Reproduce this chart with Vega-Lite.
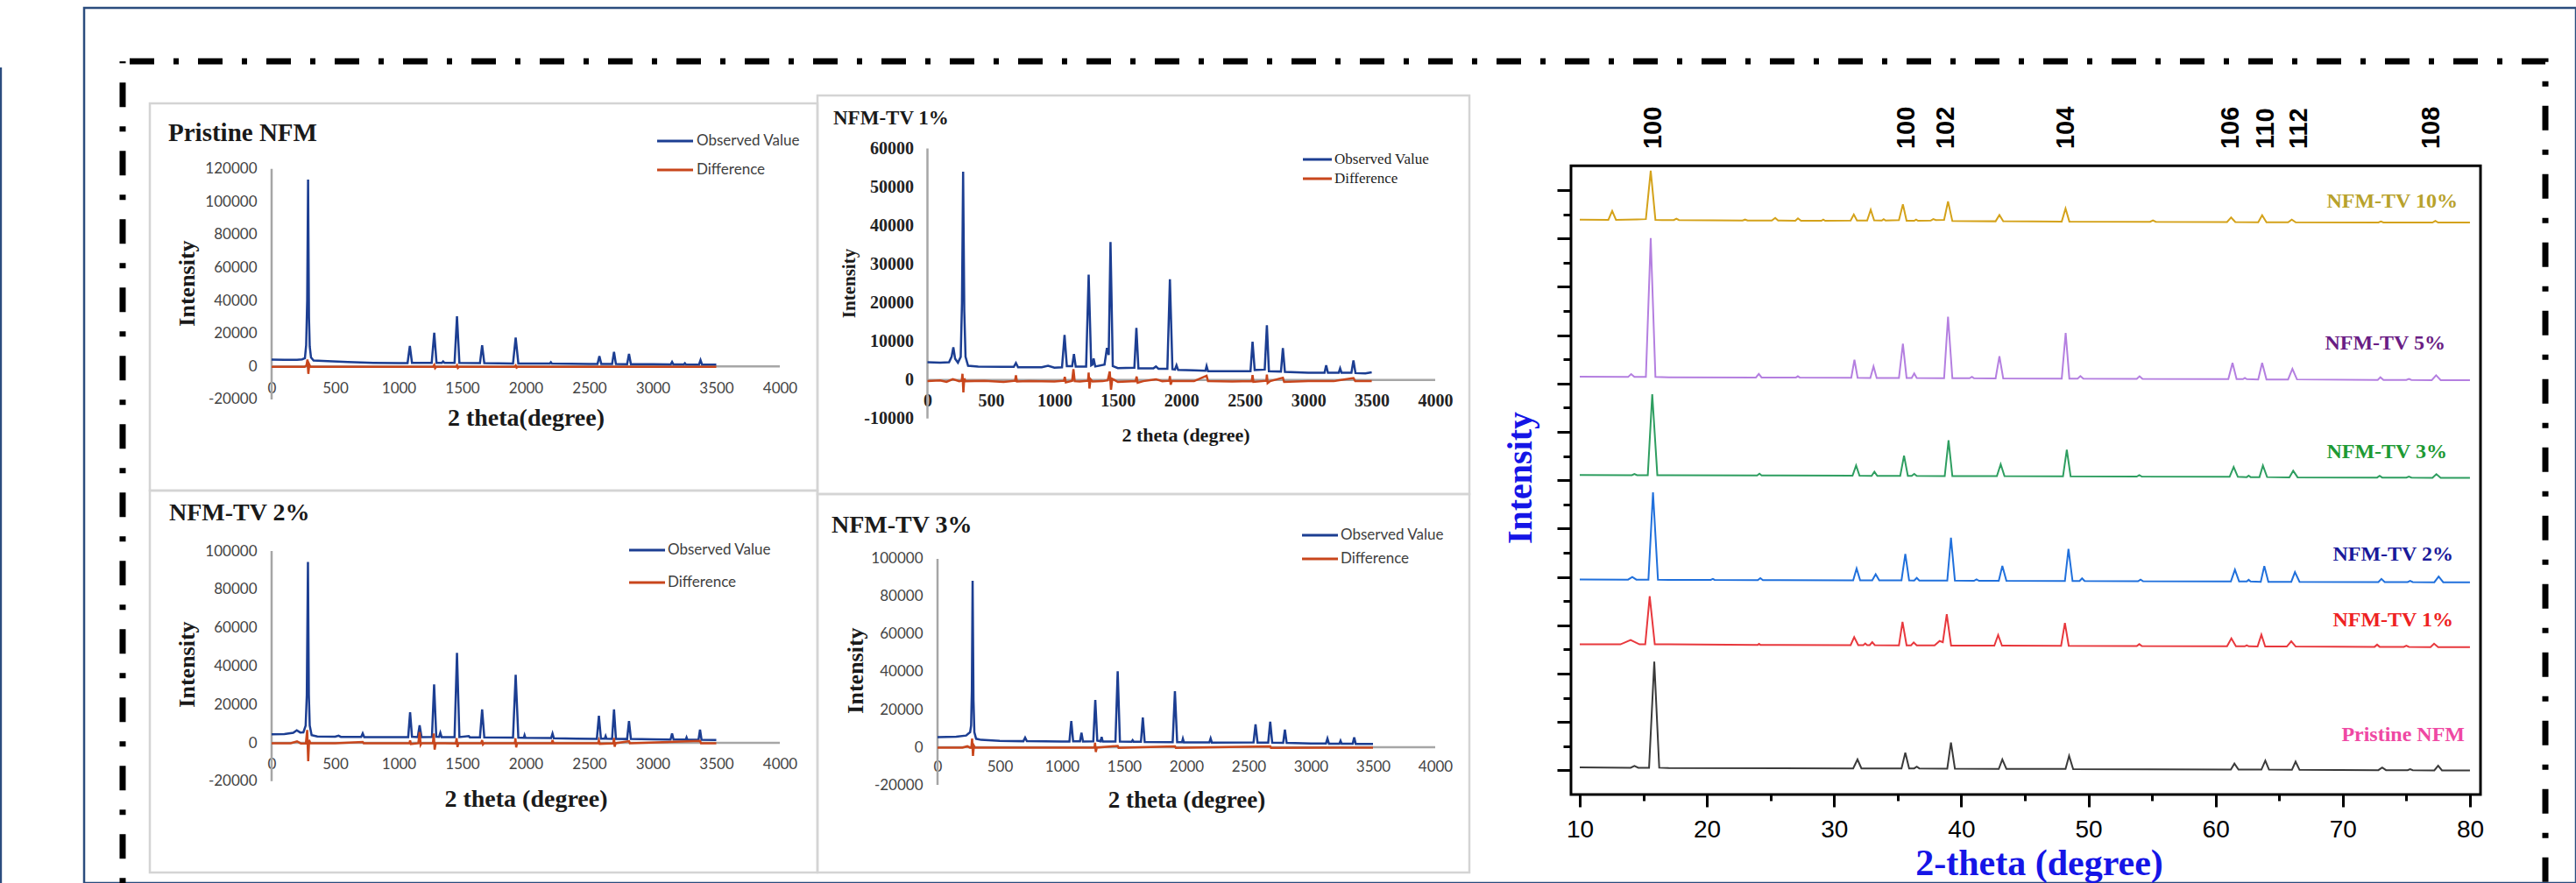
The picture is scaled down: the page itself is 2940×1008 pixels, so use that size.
{
"$schema": "https://vega.github.io/schema/vega-lite/v6.json",
"width": 2844, "height": 999,
"autosize": {"type": "none"},
"padding": {"left": 96, "top": 9, "right": 0, "bottom": 0},
"background": "white",
"config": {"view": {"stroke": "#2b4c7e", "strokeWidth": 2.5}, "axis": {"grid": false}},
"data": {"values": [{}]},
"datasets": {
"p1o": [{"t":0,"v":4100},{"t":100,"v":4050},{"t":200,"v":4000},{"t":240,"v":4300},{"t":262,"v":5000},{"t":272,"v":13000},{"t":280,"v":40000},{"t":287,"v":113400},{"t":294,"v":30000},{"t":300,"v":12000},{"t":310,"v":5500},{"t":330,"v":3600},{"t":400,"v":3300},{"t":600,"v":2700},{"t":800,"v":2200},{"t":1000,"v":2000},{"t":1070,"v":2000},{"t":1088,"v":12400},{"t":1105,"v":2200},{"t":1260,"v":2100},{"t":1280,"v":20400},{"t":1298,"v":2200},{"t":1340,"v":2100},{"t":1350,"v":3000},{"t":1362,"v":2100},{"t":1440,"v":2100},{"t":1459,"v":30500},{"t":1478,"v":2200},{"t":1640,"v":2000},{"t":1657,"v":12900},{"t":1674,"v":2000},{"t":1900,"v":1800},{"t":1921,"v":17500},{"t":1942,"v":1800},{"t":2000,"v":1700},{"t":2190,"v":1700},{"t":2198,"v":2500},{"t":2206,"v":1700},{"t":2500,"v":1500},{"t":2565,"v":1500},{"t":2580,"v":6300},{"t":2595,"v":1500},{"t":2680,"v":1450},{"t":2695,"v":8900},{"t":2710,"v":1450},{"t":2798,"v":1400},{"t":2813,"v":7600},{"t":2828,"v":1400},{"t":3000,"v":1300},{"t":3142,"v":1250},{"t":3152,"v":2700},{"t":3162,"v":1250},{"t":3245,"v":1200},{"t":3253,"v":1900},{"t":3261,"v":1200},{"t":3364,"v":1150},{"t":3376,"v":3800},{"t":3388,"v":1150},{"t":3500,"v":1100}],
"p1d": [{"t":0,"v":-300},{"t":260,"v":-300},{"t":275,"v":800},{"t":282,"v":4200},{"t":289,"v":-4500},{"t":296,"v":1200},{"t":305,"v":-300},{"t":1270,"v":-300},{"t":1280,"v":900},{"t":1287,"v":-1000},{"t":1295,"v":-300},{"t":1450,"v":-300},{"t":1459,"v":700},{"t":1466,"v":-900},{"t":1475,"v":-300},{"t":1912,"v":-300},{"t":1921,"v":500},{"t":1928,"v":-700},{"t":1936,"v":-300},{"t":3500,"v":-300}],
"p2o": [{"t":0,"v":4600},{"t":100,"v":4500},{"t":170,"v":4600},{"t":190,"v":6000},{"t":204,"v":8500},{"t":218,"v":5500},{"t":240,"v":4500},{"t":262,"v":6000},{"t":272,"v":20000},{"t":281,"v":54000},{"t":290,"v":18000},{"t":300,"v":6000},{"t":320,"v":3700},{"t":400,"v":3500},{"t":600,"v":3400},{"t":680,"v":3400},{"t":697,"v":4400},{"t":714,"v":3300},{"t":900,"v":3300},{"t":950,"v":3700},{"t":1000,"v":3200},{"t":1060,"v":3300},{"t":1080,"v":11700},{"t":1098,"v":3600},{"t":1140,"v":3600},{"t":1154,"v":6700},{"t":1168,"v":3500},{"t":1250,"v":3500},{"t":1270,"v":27300},{"t":1290,"v":3800},{"t":1300,"v":4000},{"t":1309,"v":5600},{"t":1322,"v":3500},{"t":1395,"v":4000},{"t":1414,"v":8300},{"t":1428,"v":6500},{"t":1442,"v":35800},{"t":1460,"v":3600},{"t":1500,"v":3100},{"t":1630,"v":3200},{"t":1646,"v":13500},{"t":1662,"v":3000},{"t":1780,"v":3000},{"t":1800,"v":3500},{"t":1820,"v":2900},{"t":1890,"v":2900},{"t":1910,"v":26100},{"t":1930,"v":2800},{"t":1950,"v":2700},{"t":1962,"v":3800},{"t":1975,"v":2600},{"t":2100,"v":2500},{"t":2190,"v":2400},{"t":2199,"v":3600},{"t":2210,"v":2300},{"t":2400,"v":2300},{"t":2545,"v":2300},{"t":2561,"v":9900},{"t":2578,"v":2600},{"t":2657,"v":2700},{"t":2674,"v":14200},{"t":2690,"v":2300},{"t":2785,"v":2200},{"t":2800,"v":8300},{"t":2816,"v":2100},{"t":3000,"v":1900},{"t":3128,"v":1900},{"t":3141,"v":3800},{"t":3155,"v":1900},{"t":3240,"v":1900},{"t":3251,"v":3000},{"t":3262,"v":1900},{"t":3340,"v":1900},{"t":3356,"v":5100},{"t":3372,"v":1800},{"t":3450,"v":1700},{"t":3500,"v":2000}],
"p2d": [{"t":0,"v":-300},{"t":100,"v":-100},{"t":150,"v":-500},{"t":200,"v":200},{"t":250,"v":-300},{"t":270,"v":-200},{"t":276,"v":1600},{"t":283,"v":-3200},{"t":290,"v":400},{"t":300,"v":-300},{"t":450,"v":-200},{"t":600,"v":-500},{"t":690,"v":-200},{"t":697,"v":1200},{"t":705,"v":-400},{"t":800,"v":-300},{"t":1000,"v":-400},{"t":1075,"v":-200},{"t":1082,"v":800},{"t":1090,"v":-600},{"t":1140,"v":-200},{"t":1150,"v":2800},{"t":1160,"v":-300},{"t":1200,"v":-400},{"t":1265,"v":-200},{"t":1270,"v":1900},{"t":1276,"v":-2200},{"t":1285,"v":200},{"t":1300,"v":-400},{"t":1380,"v":-300},{"t":1420,"v":-100},{"t":1436,"v":2200},{"t":1446,"v":-2500},{"t":1456,"v":300},{"t":1500,"v":-500},{"t":1640,"v":-300},{"t":1648,"v":900},{"t":1656,"v":-700},{"t":1700,"v":-300},{"t":1800,"v":200},{"t":1850,"v":-300},{"t":1905,"v":-200},{"t":1910,"v":1000},{"t":1916,"v":-1200},{"t":1925,"v":-300},{"t":2100,"v":-300},{"t":2199,"v":1100},{"t":2210,"v":-300},{"t":2400,"v":-400},{"t":2555,"v":-300},{"t":2561,"v":1300},{"t":2568,"v":-500},{"t":2670,"v":-200},{"t":2674,"v":1400},{"t":2680,"v":-800},{"t":2700,"v":-300},{"t":2800,"v":600},{"t":2810,"v":-500},{"t":3000,"v":-300},{"t":3200,"v":-300},{"t":3356,"v":500},{"t":3370,"v":-300},{"t":3500,"v":-300}],
"p3o": [{"t":0,"v":4500},{"t":100,"v":4600},{"t":170,"v":5200},{"t":198,"v":6500},{"t":225,"v":5400},{"t":250,"v":5500},{"t":268,"v":9000},{"t":277,"v":25000},{"t":286,"v":94300},{"t":293,"v":25000},{"t":300,"v":9000},{"t":315,"v":4000},{"t":360,"v":3300},{"t":500,"v":3200},{"t":527,"v":3700},{"t":545,"v":3100},{"t":705,"v":3100},{"t":717,"v":4900},{"t":729,"v":3000},{"t":1000,"v":3000},{"t":1075,"v":3000},{"t":1090,"v":15900},{"t":1105,"v":3200},{"t":1150,"v":3000},{"t":1165,"v":9200},{"t":1180,"v":3000},{"t":1262,"v":3100},{"t":1279,"v":30400},{"t":1296,"v":3200},{"t":1318,"v":3100},{"t":1328,"v":5200},{"t":1338,"v":3000},{"t":1440,"v":3000},{"t":1459,"v":46900},{"t":1478,"v":3000},{"t":1552,"v":3500},{"t":1560,"v":2900},{"t":1640,"v":2900},{"t":1657,"v":17400},{"t":1674,"v":2800},{"t":1900,"v":2700},{"t":1921,"v":35500},{"t":1942,"v":2700},{"t":1985,"v":2600},{"t":1991,"v":4000},{"t":1998,"v":2600},{"t":2200,"v":2500},{"t":2211,"v":4900},{"t":2222,"v":2400},{"t":2400,"v":2200},{"t":2560,"v":2100},{"t":2576,"v":14100},{"t":2592,"v":2200},{"t":2622,"v":2200},{"t":2629,"v":3500},{"t":2636,"v":2200},{"t":2680,"v":2100},{"t":2695,"v":17400},{"t":2710,"v":2100},{"t":2798,"v":2000},{"t":2813,"v":11300},{"t":2828,"v":2000},{"t":3000,"v":1800},{"t":3140,"v":1700},{"t":3152,"v":4900},{"t":3164,"v":1700},{"t":3260,"v":1700},{"t":3266,"v":2800},{"t":3272,"v":1700},{"t":3360,"v":1600},{"t":3372,"v":6900},{"t":3384,"v":1600},{"t":3500,"v":1500}],
"p3d": [{"t":0,"v":-200},{"t":150,"v":-200},{"t":200,"v":800},{"t":230,"v":-300},{"t":270,"v":-200},{"t":280,"v":6700},{"t":288,"v":-9600},{"t":295,"v":1500},{"t":305,"v":-200},{"t":500,"v":-200},{"t":717,"v":500},{"t":725,"v":-200},{"t":1085,"v":-200},{"t":1090,"v":1200},{"t":1096,"v":-600},{"t":1155,"v":-200},{"t":1165,"v":5600},{"t":1173,"v":-1000},{"t":1180,"v":-200},{"t":1270,"v":-200},{"t":1276,"v":4900},{"t":1283,"v":-3500},{"t":1292,"v":-200},{"t":1450,"v":-300},{"t":1456,"v":2400},{"t":1463,"v":-2200},{"t":1470,"v":-200},{"t":1650,"v":-200},{"t":1657,"v":1400},{"t":1664,"v":-800},{"t":1672,"v":-200},{"t":1915,"v":-200},{"t":1919,"v":2400},{"t":1925,"v":-2400},{"t":1932,"v":-200},{"t":2205,"v":-200},{"t":2211,"v":1500},{"t":2218,"v":-200},{"t":2570,"v":-200},{"t":2576,"v":1200},{"t":2583,"v":-500},{"t":2690,"v":-200},{"t":2695,"v":2600},{"t":2700,"v":-2000},{"t":2708,"v":-200},{"t":2813,"v":900},{"t":2820,"v":-200},{"t":3372,"v":1000},{"t":3380,"v":-200},{"t":3500,"v":-200}],
"p4o": [{"t":0,"v":5400},{"t":150,"v":5600},{"t":230,"v":6200},{"t":262,"v":8000},{"t":270,"v":11600},{"t":276,"v":30000},{"t":282,"v":88400},{"t":289,"v":25000},{"t":296,"v":8000},{"t":310,"v":4500},{"t":350,"v":3900},{"t":500,"v":3400},{"t":690,"v":3200},{"t":704,"v":5100},{"t":718,"v":3200},{"t":1000,"v":3000},{"t":1060,"v":3000},{"t":1075,"v":13900},{"t":1090,"v":3100},{"t":1145,"v":3100},{"t":1157,"v":7700},{"t":1169,"v":3000},{"t":1252,"v":3100},{"t":1268,"v":25100},{"t":1284,"v":3500},{"t":1310,"v":3100},{"t":1319,"v":5400},{"t":1328,"v":3000},{"t":1430,"v":3000},{"t":1448,"v":40300},{"t":1466,"v":3000},{"t":1560,"v":2900},{"t":1568,"v":3700},{"t":1576,"v":2900},{"t":1635,"v":2900},{"t":1650,"v":15800},{"t":1665,"v":2800},{"t":1890,"v":2700},{"t":1908,"v":29800},{"t":1926,"v":2700},{"t":1965,"v":2700},{"t":1972,"v":4500},{"t":1980,"v":2600},{"t":2185,"v":2600},{"t":2195,"v":4700},{"t":2205,"v":2500},{"t":2540,"v":2600},{"t":2556,"v":12100},{"t":2572,"v":2500},{"t":2658,"v":2500},{"t":2674,"v":13500},{"t":2690,"v":2400},{"t":2778,"v":2300},{"t":2792,"v":9300},{"t":2806,"v":2300},{"t":3000,"v":2000},{"t":3122,"v":2000},{"t":3134,"v":4600},{"t":3146,"v":1900},{"t":3230,"v":1900},{"t":3239,"v":3400},{"t":3248,"v":1900},{"t":3337,"v":1900},{"t":3349,"v":5200},{"t":3361,"v":1800},{"t":3500,"v":1800}],
"p4d": [{"t":0,"v":-200},{"t":200,"v":-200},{"t":240,"v":500},{"t":260,"v":-200},{"t":272,"v":-300},{"t":278,"v":4600},{"t":285,"v":-4600},{"t":292,"v":800},{"t":300,"v":-200},{"t":1262,"v":-200},{"t":1266,"v":2400},{"t":1272,"v":-2500},{"t":1280,"v":-200},{"t":1448,"v":700},{"t":1455,"v":-300},{"t":1908,"v":500},{"t":1915,"v":-300},{"t":2674,"v":500},{"t":2680,"v":-300},{"t":3500,"v":-200}],
"xrd": [
{"s":"Pristine NFM","t":10,"v":1.12},{"s":"Pristine NFM","t":14.0,"v":1.11},{"s":"Pristine NFM","t":14.3,"v":1.18},{"s":"Pristine NFM","t":14.6,"v":1.11},{"s":"Pristine NFM","t":15.45,"v":1.11},{"s":"Pristine NFM","t":15.86,"v":5.5},{"s":"Pristine NFM","t":16.25,"v":1.11},{"s":"Pristine NFM","t":17,"v":1.1},{"s":"Pristine NFM","t":31.5,"v":1.08},{"s":"Pristine NFM","t":31.84,"v":1.45},{"s":"Pristine NFM","t":32.15,"v":1.08},{"s":"Pristine NFM","t":35.3,"v":1.08},{"s":"Pristine NFM","t":35.6,"v":1.73},{"s":"Pristine NFM","t":35.9,"v":1.08},{"s":"Pristine NFM","t":36.3,"v":1.08},{"s":"Pristine NFM","t":36.5,"v":1.15},{"s":"Pristine NFM","t":36.7,"v":1.08},{"s":"Pristine NFM","t":38.9,"v":1.07},{"s":"Pristine NFM","t":39.19,"v":2.15},{"s":"Pristine NFM","t":39.5,"v":1.07},{"s":"Pristine NFM","t":42.95,"v":1.06},{"s":"Pristine NFM","t":43.23,"v":1.45},{"s":"Pristine NFM","t":43.55,"v":1.06},{"s":"Pristine NFM","t":48.2,"v":1.06},{"s":"Pristine NFM","t":48.48,"v":1.6},{"s":"Pristine NFM","t":48.8,"v":1.05},{"s":"Pristine NFM","t":61.2,"v":1.03},{"s":"Pristine NFM","t":61.48,"v":1.28},{"s":"Pristine NFM","t":61.8,"v":1.03},{"s":"Pristine NFM","t":63.6,"v":1.03},{"s":"Pristine NFM","t":63.91,"v":1.4},{"s":"Pristine NFM","t":64.2,"v":1.03},{"s":"Pristine NFM","t":66.0,"v":1.02},{"s":"Pristine NFM","t":66.29,"v":1.36},{"s":"Pristine NFM","t":66.6,"v":1.02},{"s":"Pristine NFM","t":72.8,"v":1.01},{"s":"Pristine NFM","t":73.1,"v":1.12},{"s":"Pristine NFM","t":73.4,"v":1.01},{"s":"Pristine NFM","t":75.1,"v":1.01},{"s":"Pristine NFM","t":75.3,"v":1.05},{"s":"Pristine NFM","t":75.5,"v":1.01},{"s":"Pristine NFM","t":77.2,"v":1.0},{"s":"Pristine NFM","t":77.5,"v":1.19},{"s":"Pristine NFM","t":77.8,"v":1.0},{"s":"Pristine NFM","t":80,"v":1.0},
{"s":"NFM-TV 1%","t":10,"v":6.21},{"s":"NFM-TV 1%","t":13.2,"v":6.21},{"s":"NFM-TV 1%","t":14.0,"v":6.39},{"s":"NFM-TV 1%","t":14.7,"v":6.21},{"s":"NFM-TV 1%","t":15.15,"v":6.21},{"s":"NFM-TV 1%","t":15.5,"v":8.2},{"s":"NFM-TV 1%","t":15.9,"v":6.21},{"s":"NFM-TV 1%","t":17,"v":6.21},{"s":"NFM-TV 1%","t":24.0,"v":6.19},{"s":"NFM-TV 1%","t":24.1,"v":6.23},{"s":"NFM-TV 1%","t":24.2,"v":6.19},{"s":"NFM-TV 1%","t":31.3,"v":6.18},{"s":"NFM-TV 1%","t":31.58,"v":6.51},{"s":"NFM-TV 1%","t":31.9,"v":6.18},{"s":"NFM-TV 1%","t":32.3,"v":6.18},{"s":"NFM-TV 1%","t":32.45,"v":6.25},{"s":"NFM-TV 1%","t":32.6,"v":6.18},{"s":"NFM-TV 1%","t":32.8,"v":6.18},{"s":"NFM-TV 1%","t":33.0,"v":6.3},{"s":"NFM-TV 1%","t":33.2,"v":6.18},{"s":"NFM-TV 1%","t":35.1,"v":6.17},{"s":"NFM-TV 1%","t":35.38,"v":7.14},{"s":"NFM-TV 1%","t":35.7,"v":6.17},{"s":"NFM-TV 1%","t":36.05,"v":6.17},{"s":"NFM-TV 1%","t":36.26,"v":6.29},{"s":"NFM-TV 1%","t":36.5,"v":6.17},{"s":"NFM-TV 1%","t":37.9,"v":6.17},{"s":"NFM-TV 1%","t":38.3,"v":6.35},{"s":"NFM-TV 1%","t":38.55,"v":6.3},{"s":"NFM-TV 1%","t":38.86,"v":7.46},{"s":"NFM-TV 1%","t":39.2,"v":6.16},{"s":"NFM-TV 1%","t":42.6,"v":6.16},{"s":"NFM-TV 1%","t":42.9,"v":6.6},{"s":"NFM-TV 1%","t":43.2,"v":6.16},{"s":"NFM-TV 1%","t":47.85,"v":6.15},{"s":"NFM-TV 1%","t":48.15,"v":7.1},{"s":"NFM-TV 1%","t":48.45,"v":6.15},{"s":"NFM-TV 1%","t":53.8,"v":6.14},{"s":"NFM-TV 1%","t":54.0,"v":6.22},{"s":"NFM-TV 1%","t":54.2,"v":6.14},{"s":"NFM-TV 1%","t":60.9,"v":6.13},{"s":"NFM-TV 1%","t":61.24,"v":6.46},{"s":"NFM-TV 1%","t":61.6,"v":6.13},{"s":"NFM-TV 1%","t":62.3,"v":6.13},{"s":"NFM-TV 1%","t":62.45,"v":6.17},{"s":"NFM-TV 1%","t":62.6,"v":6.13},{"s":"NFM-TV 1%","t":63.3,"v":6.12},{"s":"NFM-TV 1%","t":63.6,"v":6.61},{"s":"NFM-TV 1%","t":63.9,"v":6.12},{"s":"NFM-TV 1%","t":65.6,"v":6.12},{"s":"NFM-TV 1%","t":65.95,"v":6.34},{"s":"NFM-TV 1%","t":66.3,"v":6.12},{"s":"NFM-TV 1%","t":72.5,"v":6.11},{"s":"NFM-TV 1%","t":72.7,"v":6.2},{"s":"NFM-TV 1%","t":72.9,"v":6.11},{"s":"NFM-TV 1%","t":74.8,"v":6.11},{"s":"NFM-TV 1%","t":75.0,"v":6.16},{"s":"NFM-TV 1%","t":75.2,"v":6.11},{"s":"NFM-TV 1%","t":76.9,"v":6.1},{"s":"NFM-TV 1%","t":77.18,"v":6.24},{"s":"NFM-TV 1%","t":77.5,"v":6.1},{"s":"NFM-TV 1%","t":80,"v":6.1},
{"s":"NFM-TV 2%","t":10,"v":8.9},{"s":"NFM-TV 2%","t":13.8,"v":8.89},{"s":"NFM-TV 2%","t":14.13,"v":9.0},{"s":"NFM-TV 2%","t":14.45,"v":8.89},{"s":"NFM-TV 2%","t":15.4,"v":8.89},{"s":"NFM-TV 2%","t":15.76,"v":12.5},{"s":"NFM-TV 2%","t":16.15,"v":8.89},{"s":"NFM-TV 2%","t":17,"v":8.88},{"s":"NFM-TV 2%","t":20.3,"v":8.88},{"s":"NFM-TV 2%","t":20.47,"v":8.92},{"s":"NFM-TV 2%","t":20.6,"v":8.88},{"s":"NFM-TV 2%","t":24.0,"v":8.87},{"s":"NFM-TV 2%","t":24.2,"v":8.95},{"s":"NFM-TV 2%","t":24.4,"v":8.87},{"s":"NFM-TV 2%","t":31.5,"v":8.86},{"s":"NFM-TV 2%","t":31.77,"v":9.35},{"s":"NFM-TV 2%","t":32.05,"v":8.86},{"s":"NFM-TV 2%","t":33.0,"v":8.86},{"s":"NFM-TV 2%","t":33.27,"v":9.11},{"s":"NFM-TV 2%","t":33.55,"v":8.86},{"s":"NFM-TV 2%","t":35.3,"v":8.86},{"s":"NFM-TV 2%","t":35.6,"v":9.95},{"s":"NFM-TV 2%","t":35.9,"v":8.86},{"s":"NFM-TV 2%","t":36.3,"v":8.85},{"s":"NFM-TV 2%","t":36.5,"v":8.96},{"s":"NFM-TV 2%","t":36.7,"v":8.85},{"s":"NFM-TV 2%","t":38.9,"v":8.85},{"s":"NFM-TV 2%","t":39.19,"v":10.62},{"s":"NFM-TV 2%","t":39.5,"v":8.85},{"s":"NFM-TV 2%","t":41.0,"v":8.84},{"s":"NFM-TV 2%","t":41.2,"v":8.9},{"s":"NFM-TV 2%","t":41.4,"v":8.84},{"s":"NFM-TV 2%","t":42.95,"v":8.84},{"s":"NFM-TV 2%","t":43.23,"v":9.46},{"s":"NFM-TV 2%","t":43.55,"v":8.84},{"s":"NFM-TV 2%","t":48.15,"v":8.83},{"s":"NFM-TV 2%","t":48.43,"v":10.16},{"s":"NFM-TV 2%","t":48.75,"v":8.83},{"s":"NFM-TV 2%","t":49.3,"v":8.83},{"s":"NFM-TV 2%","t":49.5,"v":8.94},{"s":"NFM-TV 2%","t":49.7,"v":8.83},{"s":"NFM-TV 2%","t":53.9,"v":8.82},{"s":"NFM-TV 2%","t":54.1,"v":8.89},{"s":"NFM-TV 2%","t":54.3,"v":8.82},{"s":"NFM-TV 2%","t":61.2,"v":8.81},{"s":"NFM-TV 2%","t":61.52,"v":9.3},{"s":"NFM-TV 2%","t":61.85,"v":8.81},{"s":"NFM-TV 2%","t":62.45,"v":8.81},{"s":"NFM-TV 2%","t":62.6,"v":8.88},{"s":"NFM-TV 2%","t":62.75,"v":8.81},{"s":"NFM-TV 2%","t":63.55,"v":8.8},{"s":"NFM-TV 2%","t":63.83,"v":9.45},{"s":"NFM-TV 2%","t":64.15,"v":8.8},{"s":"NFM-TV 2%","t":65.95,"v":8.8},{"s":"NFM-TV 2%","t":66.24,"v":9.2},{"s":"NFM-TV 2%","t":66.6,"v":8.8},{"s":"NFM-TV 2%","t":72.8,"v":8.79},{"s":"NFM-TV 2%","t":73.04,"v":8.92},{"s":"NFM-TV 2%","t":73.3,"v":8.79},{"s":"NFM-TV 2%","t":75.1,"v":8.79},{"s":"NFM-TV 2%","t":75.3,"v":8.84},{"s":"NFM-TV 2%","t":75.5,"v":8.79},{"s":"NFM-TV 2%","t":77.2,"v":8.78},{"s":"NFM-TV 2%","t":77.54,"v":9.02},{"s":"NFM-TV 2%","t":77.9,"v":8.78},{"s":"NFM-TV 2%","t":80,"v":8.78},
{"s":"NFM-TV 3%","t":10,"v":13.22},{"s":"NFM-TV 3%","t":14.1,"v":13.21},{"s":"NFM-TV 3%","t":14.3,"v":13.26},{"s":"NFM-TV 3%","t":14.5,"v":13.21},{"s":"NFM-TV 3%","t":15.35,"v":13.21},{"s":"NFM-TV 3%","t":15.7,"v":16.56},{"s":"NFM-TV 3%","t":16.1,"v":13.21},{"s":"NFM-TV 3%","t":17,"v":13.21},{"s":"NFM-TV 3%","t":23.95,"v":13.2},{"s":"NFM-TV 3%","t":24.13,"v":13.27},{"s":"NFM-TV 3%","t":24.3,"v":13.2},{"s":"NFM-TV 3%","t":31.45,"v":13.19},{"s":"NFM-TV 3%","t":31.73,"v":13.61},{"s":"NFM-TV 3%","t":32.0,"v":13.19},{"s":"NFM-TV 3%","t":32.95,"v":13.18},{"s":"NFM-TV 3%","t":33.17,"v":13.35},{"s":"NFM-TV 3%","t":33.4,"v":13.18},{"s":"NFM-TV 3%","t":35.2,"v":13.18},{"s":"NFM-TV 3%","t":35.5,"v":14.02},{"s":"NFM-TV 3%","t":35.8,"v":13.18},{"s":"NFM-TV 3%","t":36.1,"v":13.18},{"s":"NFM-TV 3%","t":36.3,"v":13.26},{"s":"NFM-TV 3%","t":36.5,"v":13.18},{"s":"NFM-TV 3%","t":38.7,"v":13.17},{"s":"NFM-TV 3%","t":39.0,"v":14.65},{"s":"NFM-TV 3%","t":39.3,"v":13.17},{"s":"NFM-TV 3%","t":42.8,"v":13.17},{"s":"NFM-TV 3%","t":43.1,"v":13.66},{"s":"NFM-TV 3%","t":43.4,"v":13.17},{"s":"NFM-TV 3%","t":48.0,"v":13.16},{"s":"NFM-TV 3%","t":48.3,"v":14.26},{"s":"NFM-TV 3%","t":48.6,"v":13.16},{"s":"NFM-TV 3%","t":53.8,"v":13.15},{"s":"NFM-TV 3%","t":54.0,"v":13.21},{"s":"NFM-TV 3%","t":54.2,"v":13.15},{"s":"NFM-TV 3%","t":61.1,"v":13.14},{"s":"NFM-TV 3%","t":61.42,"v":13.55},{"s":"NFM-TV 3%","t":61.75,"v":13.14},{"s":"NFM-TV 3%","t":62.45,"v":13.13},{"s":"NFM-TV 3%","t":62.6,"v":13.19},{"s":"NFM-TV 3%","t":62.75,"v":13.13},{"s":"NFM-TV 3%","t":63.45,"v":13.13},{"s":"NFM-TV 3%","t":63.72,"v":13.61},{"s":"NFM-TV 3%","t":64.05,"v":13.13},{"s":"NFM-TV 3%","t":65.8,"v":13.12},{"s":"NFM-TV 3%","t":66.1,"v":13.39},{"s":"NFM-TV 3%","t":66.45,"v":13.12},{"s":"NFM-TV 3%","t":72.7,"v":13.11},{"s":"NFM-TV 3%","t":72.9,"v":13.18},{"s":"NFM-TV 3%","t":73.1,"v":13.11},{"s":"NFM-TV 3%","t":75.0,"v":13.11},{"s":"NFM-TV 3%","t":75.2,"v":13.15},{"s":"NFM-TV 3%","t":75.4,"v":13.11},{"s":"NFM-TV 3%","t":77.05,"v":13.1},{"s":"NFM-TV 3%","t":77.36,"v":13.25},{"s":"NFM-TV 3%","t":77.7,"v":13.1},{"s":"NFM-TV 3%","t":80,"v":13.1},
{"s":"NFM-TV 5%","t":10,"v":17.28},{"s":"NFM-TV 5%","t":13.8,"v":17.27},{"s":"NFM-TV 5%","t":14.04,"v":17.39},{"s":"NFM-TV 5%","t":14.3,"v":17.27},{"s":"NFM-TV 5%","t":15.2,"v":17.27},{"s":"NFM-TV 5%","t":15.58,"v":23.02},{"s":"NFM-TV 5%","t":15.95,"v":17.27},{"s":"NFM-TV 5%","t":17,"v":17.26},{"s":"NFM-TV 5%","t":23.85,"v":17.25},{"s":"NFM-TV 5%","t":24.08,"v":17.4},{"s":"NFM-TV 5%","t":24.3,"v":17.25},{"s":"NFM-TV 5%","t":27.0,"v":17.25},{"s":"NFM-TV 5%","t":27.15,"v":17.3},{"s":"NFM-TV 5%","t":27.3,"v":17.25},{"s":"NFM-TV 5%","t":31.35,"v":17.24},{"s":"NFM-TV 5%","t":31.6,"v":17.98},{"s":"NFM-TV 5%","t":31.85,"v":17.24},{"s":"NFM-TV 5%","t":32.85,"v":17.23},{"s":"NFM-TV 5%","t":33.1,"v":17.71},{"s":"NFM-TV 5%","t":33.35,"v":17.23},{"s":"NFM-TV 5%","t":35.1,"v":17.23},{"s":"NFM-TV 5%","t":35.41,"v":18.65},{"s":"NFM-TV 5%","t":35.7,"v":17.23},{"s":"NFM-TV 5%","t":36.1,"v":17.23},{"s":"NFM-TV 5%","t":36.3,"v":17.42},{"s":"NFM-TV 5%","t":36.5,"v":17.23},{"s":"NFM-TV 5%","t":38.65,"v":17.22},{"s":"NFM-TV 5%","t":38.96,"v":19.76},{"s":"NFM-TV 5%","t":39.3,"v":17.22},{"s":"NFM-TV 5%","t":40.65,"v":17.22},{"s":"NFM-TV 5%","t":40.84,"v":17.28},{"s":"NFM-TV 5%","t":41.0,"v":17.22},{"s":"NFM-TV 5%","t":42.7,"v":17.21},{"s":"NFM-TV 5%","t":43.0,"v":18.13},{"s":"NFM-TV 5%","t":43.3,"v":17.21},{"s":"NFM-TV 5%","t":47.9,"v":17.2},{"s":"NFM-TV 5%","t":48.21,"v":19.09},{"s":"NFM-TV 5%","t":48.5,"v":17.2},{"s":"NFM-TV 5%","t":49.15,"v":17.2},{"s":"NFM-TV 5%","t":49.37,"v":17.31},{"s":"NFM-TV 5%","t":49.6,"v":17.2},{"s":"NFM-TV 5%","t":53.8,"v":17.19},{"s":"NFM-TV 5%","t":54.02,"v":17.3},{"s":"NFM-TV 5%","t":54.25,"v":17.19},{"s":"NFM-TV 5%","t":61.0,"v":17.18},{"s":"NFM-TV 5%","t":61.33,"v":17.85},{"s":"NFM-TV 5%","t":61.65,"v":17.18},{"s":"NFM-TV 5%","t":62.15,"v":17.18},{"s":"NFM-TV 5%","t":62.3,"v":17.23},{"s":"NFM-TV 5%","t":62.45,"v":17.18},{"s":"NFM-TV 5%","t":63.35,"v":17.17},{"s":"NFM-TV 5%","t":63.66,"v":17.85},{"s":"NFM-TV 5%","t":64.0,"v":17.17},{"s":"NFM-TV 5%","t":65.7,"v":17.17},{"s":"NFM-TV 5%","t":66.04,"v":17.61},{"s":"NFM-TV 5%","t":66.4,"v":17.17},{"s":"NFM-TV 5%","t":72.75,"v":17.15},{"s":"NFM-TV 5%","t":72.96,"v":17.26},{"s":"NFM-TV 5%","t":73.2,"v":17.15},{"s":"NFM-TV 5%","t":75.0,"v":17.15},{"s":"NFM-TV 5%","t":75.2,"v":17.19},{"s":"NFM-TV 5%","t":75.4,"v":17.15},{"s":"NFM-TV 5%","t":77.0,"v":17.14},{"s":"NFM-TV 5%","t":77.34,"v":17.34},{"s":"NFM-TV 5%","t":77.7,"v":17.14},{"s":"NFM-TV 5%","t":80,"v":17.14},
{"s":"NFM-TV 10%","t":10,"v":23.78},{"s":"NFM-TV 10%","t":12.25,"v":23.77},{"s":"NFM-TV 10%","t":12.55,"v":24.14},{"s":"NFM-TV 10%","t":12.85,"v":23.77},{"s":"NFM-TV 10%","t":14.5,"v":23.79},{"s":"NFM-TV 10%","t":15.2,"v":23.8},{"s":"NFM-TV 10%","t":15.58,"v":25.8},{"s":"NFM-TV 10%","t":15.95,"v":23.77},{"s":"NFM-TV 10%","t":16.5,"v":23.76},{"s":"NFM-TV 10%","t":17.4,"v":23.76},{"s":"NFM-TV 10%","t":17.6,"v":23.82},{"s":"NFM-TV 10%","t":17.8,"v":23.76},{"s":"NFM-TV 10%","t":22.8,"v":23.74},{"s":"NFM-TV 10%","t":23.0,"v":23.78},{"s":"NFM-TV 10%","t":23.2,"v":23.74},{"s":"NFM-TV 10%","t":25.1,"v":23.74},{"s":"NFM-TV 10%","t":25.37,"v":23.85},{"s":"NFM-TV 10%","t":25.6,"v":23.74},{"s":"NFM-TV 10%","t":26.95,"v":23.73},{"s":"NFM-TV 10%","t":27.16,"v":23.83},{"s":"NFM-TV 10%","t":27.4,"v":23.73},{"s":"NFM-TV 10%","t":29.0,"v":23.73},{"s":"NFM-TV 10%","t":29.15,"v":23.78},{"s":"NFM-TV 10%","t":29.3,"v":23.73},{"s":"NFM-TV 10%","t":31.3,"v":23.74},{"s":"NFM-TV 10%","t":31.55,"v":23.99},{"s":"NFM-TV 10%","t":31.8,"v":23.74},{"s":"NFM-TV 10%","t":32.6,"v":23.74},{"s":"NFM-TV 10%","t":32.88,"v":24.19},{"s":"NFM-TV 10%","t":33.15,"v":23.75},{"s":"NFM-TV 10%","t":33.75,"v":23.74},{"s":"NFM-TV 10%","t":33.9,"v":23.8},{"s":"NFM-TV 10%","t":34.05,"v":23.74},{"s":"NFM-TV 10%","t":35.1,"v":23.76},{"s":"NFM-TV 10%","t":35.41,"v":24.41},{"s":"NFM-TV 10%","t":35.7,"v":23.73},{"s":"NFM-TV 10%","t":36.3,"v":23.73},{"s":"NFM-TV 10%","t":36.45,"v":23.78},{"s":"NFM-TV 10%","t":36.6,"v":23.73},{"s":"NFM-TV 10%","t":37.6,"v":23.74},{"s":"NFM-TV 10%","t":37.8,"v":23.8},{"s":"NFM-TV 10%","t":38.0,"v":23.76},{"s":"NFM-TV 10%","t":38.65,"v":23.77},{"s":"NFM-TV 10%","t":38.96,"v":24.53},{"s":"NFM-TV 10%","t":39.3,"v":23.72},{"s":"NFM-TV 10%","t":42.7,"v":23.71},{"s":"NFM-TV 10%","t":43.0,"v":23.97},{"s":"NFM-TV 10%","t":43.3,"v":23.71},{"s":"NFM-TV 10%","t":47.9,"v":23.7},{"s":"NFM-TV 10%","t":48.2,"v":24.24},{"s":"NFM-TV 10%","t":48.5,"v":23.7},{"s":"NFM-TV 10%","t":54.85,"v":23.69},{"s":"NFM-TV 10%","t":55.07,"v":23.75},{"s":"NFM-TV 10%","t":55.3,"v":23.69},{"s":"NFM-TV 10%","t":60.9,"v":23.68},{"s":"NFM-TV 10%","t":61.22,"v":23.87},{"s":"NFM-TV 10%","t":61.55,"v":23.68},{"s":"NFM-TV 10%","t":63.35,"v":23.67},{"s":"NFM-TV 10%","t":63.66,"v":23.96},{"s":"NFM-TV 10%","t":64.0,"v":23.67},{"s":"NFM-TV 10%","t":65.7,"v":23.67},{"s":"NFM-TV 10%","t":65.99,"v":23.78},{"s":"NFM-TV 10%","t":66.3,"v":23.67},{"s":"NFM-TV 10%","t":72.8,"v":23.66},{"s":"NFM-TV 10%","t":73.0,"v":23.7},{"s":"NFM-TV 10%","t":73.2,"v":23.66},{"s":"NFM-TV 10%","t":77.05,"v":23.66},{"s":"NFM-TV 10%","t":77.28,"v":23.73},{"s":"NFM-TV 10%","t":77.5,"v":23.66},{"s":"NFM-TV 10%","t":80,"v":23.66}
],
"xrdlab": [{"s":"NFM-TV 10%","t":79.04,"v":24.53},{"s":"NFM-TV 5%","t":78.07,"v":18.66},{"s":"NFM-TV 3%","t":78.21,"v":14.17},{"s":"NFM-TV 2%","t":78.69,"v":9.93},{"s":"NFM-TV 1%","t":78.69,"v":7.21},{"s":"Pristine NFM","t":79.59,"v":2.46}],
"hkl": [{"h":"100","t":15.77},{"h":"100","t":35.69},{"h":"102","t":38.79},{"h":"104","t":48.21},{"h":"106","t":61.17},{"h":"110","t":63.94},{"h":"112","t":66.59},{"h":"108","t":77.0}]
},
"layer": [
{
"layer": [
{"mark": {"type": "rect", "filled": false, "stroke": "black", "strokeWidth": 7, "strokeDash": [28, 22, 6, 22], "strokeDashOffset": 70},
 "encoding": {"x": {"datum": -104.58, "type": "quantitative", "scale": {"domain": [-107.61, 88.34], "nice": false, "zero": false}}, "x2": {"datum": 85.93},
  "y": {"datum": 30.33, "type": "quantitative", "scale": {"domain": [-3.659, 32.537], "nice": false, "zero": false}}, "y2": {"datum": -4.82}}},
{"mark": {"type": "rule", "color": "#2b4c7e", "strokeWidth": 2.5},
 "encoding": {"x": {"datum": -114.16, "type": "quantitative", "scale": {"domain": [-107.61, 88.34], "nice": false, "zero": false}},
  "y": {"datum": 30.07, "type": "quantitative", "scale": {"domain": [-3.659, 32.537], "nice": false, "zero": false}}, "y2": {"datum": -4.6}}},
{"mark": {"type": "rect", "filled": false, "stroke": "black", "strokeWidth": 3},
 "encoding": {"x": {"datum": 9.311, "type": "quantitative", "scale": {"domain": [-107.61, 88.34], "nice": false, "zero": false},
   "axis": {"orient": "bottom", "offset": -101, "values": [15, 25, 35, 45, 55, 65, 75], "tickSize": 7, "tickWidth": 3, "tickColor": "black", "labels": false, "domain": false, "title": null}},
  "x2": {"datum": 80.83},
  "y": {"datum": 0, "type": "quantitative", "scale": {"domain": [-3.659, 32.537], "nice": false, "zero": false},
   "axis": {"orient": "left", "offset": -1697, "values": [2, 4, 6, 8, 10, 12, 14, 16, 18, 20, 22, 24], "tickSize": 9, "tickWidth": 3, "tickColor": "black", "labels": false, "domain": false, "title": null}},
  "y2": {"datum": 26.01}}}
]
},
{
"layer": [
{"mark": {"type": "rect", "filled": false, "stroke": "#d4d4d4", "strokeWidth": 2.5},
 "encoding": {"x": {"datum": -958.6, "type": "quantitative", "scale": {"domain": [-1475.86, 18137.93], "nice": false, "zero": false}}, "x2": {"datum": 4296.6},
  "y": {"datum": 159734, "type": "quantitative", "scale": {"domain": [-313670, 217713], "nice": false, "zero": false}}, "y2": {"datum": -75372}}},
{"mark": {"type": "rule", "color": "#a6a6a6", "strokeWidth": 2.5},
 "encoding": {"x": {"datum": 0, "type": "quantitative", "scale": {"domain": [-1475.86, 18137.93], "nice": false, "zero": false}},
  "y": {"datum": -20000, "type": "quantitative", "scale": {"domain": [-313670, 217713], "nice": false, "zero": false}}, "y2": {"datum": 120000}}},
{"mark": {"type": "rule", "color": "#a6a6a6", "strokeWidth": 2.5},
 "encoding": {"x": {"datum": 0, "type": "quantitative", "scale": {"domain": [-1475.86, 18137.93], "nice": false, "zero": false}}, "x2": {"datum": 4000},
  "y": {"datum": 0, "type": "quantitative", "scale": {"domain": [-313670, 217713], "nice": false, "zero": false}}}},
{"data": {"name": "p1o"}, "mark": {"type": "line", "color": "#1c3e92", "strokeWidth": 2.5},
 "encoding": {"x": {"field": "t", "type": "quantitative", "scale": {"domain": [-1475.86, 18137.93], "nice": false, "zero": false},
   "axis": {"orient": "bottom", "offset": -590, "values": [0, 500, 1000, 1500, 2000, 2500, 3000, 3500, 4000], "domain": false, "ticks": false, "tickSize": 0, "labelPadding": 17, "labelFont": "Lato", "labelFontSize": 17, "labelColor": "#444444", "labelFlush": false, "labelOverlap": false, "labelExpr": "'' + datum.value",
    "title": "2 theta(degree)", "titleFont": "Liberation Serif", "titleFontWeight": "bold", "titleFontSize": 28, "titleColor": "#1a1a1a", "titleX": 504, "titleY": 59, "titleAlign": "center", "titleBaseline": "middle"}},
  "y": {"field": "v", "type": "quantitative", "scale": {"domain": [-313670, 217713], "nice": false, "zero": false},
   "axis": {"orient": "left", "offset": -213, "values": [-20000, 0, 20000, 40000, 60000, 80000, 100000, 120000], "domain": false, "ticks": false, "tickSize": 0, "labelPadding": 16, "labelFont": "Lato", "labelFontSize": 17, "labelColor": "#444444", "labelFlush": false, "labelOverlap": false, "labelExpr": "'' + datum.value",
    "title": "Intensity", "titleFont": "Liberation Serif", "titleFontWeight": "bold", "titleFontSize": 26, "titleColor": "#1a1a1a", "titleAngle": 270, "titleX": -96, "titleY": 314, "titleAlign": "center", "titleBaseline": "middle"}}}},
{"data": {"name": "p1d"}, "mark": {"type": "line", "color": "#c8461c", "strokeWidth": 2.5},
 "encoding": {"x": {"field": "t", "type": "quantitative", "scale": {"domain": [-1475.86, 18137.93], "nice": false, "zero": false}},
  "y": {"field": "v", "type": "quantitative", "scale": {"domain": [-313670, 217713], "nice": false, "zero": false}}}},
{"mark": {"type": "text", "font": "Liberation Serif", "fontWeight": "bold", "fontSize": 29, "align": "left", "baseline": "middle", "color": "#1a1a1a"},
 "encoding": {"x": {"datum": -813.8, "type": "quantitative", "scale": {"domain": [-1475.86, 18137.93], "nice": false, "zero": false}},
  "y": {"datum": 141649, "type": "quantitative", "scale": {"domain": [-313670, 217713], "nice": false, "zero": false}}, "text": {"value": "Pristine NFM"}}},
{"mark": {"type": "rule", "color": "#1c3e92", "strokeWidth": 3},
 "encoding": {"x": {"datum": 3034.5, "type": "quantitative", "scale": {"domain": [-1475.86, 18137.93], "nice": false, "zero": false}}, "x2": {"datum": 3317.2},
  "y": {"datum": 136862, "type": "quantitative", "scale": {"domain": [-313670, 217713], "nice": false, "zero": false}}}},
{"mark": {"type": "rule", "color": "#c8461c", "strokeWidth": 3},
 "encoding": {"x": {"datum": 3034.5, "type": "quantitative", "scale": {"domain": [-1475.86, 18137.93], "nice": false, "zero": false}}, "x2": {"datum": 3317.2},
  "y": {"datum": 119309, "type": "quantitative", "scale": {"domain": [-313670, 217713], "nice": false, "zero": false}}}},
{"mark": {"type": "text", "font": "Lato", "fontSize": 17, "align": "left", "baseline": "middle", "color": "#404040"},
 "encoding": {"x": {"datum": 3344.8, "type": "quantitative", "scale": {"domain": [-1475.86, 18137.93], "nice": false, "zero": false}},
  "y": {"datum": 136862, "type": "quantitative", "scale": {"domain": [-313670, 217713], "nice": false, "zero": false}}, "text": {"value": "Observed Value"}}},
{"mark": {"type": "text", "font": "Lato", "fontSize": 17, "align": "left", "baseline": "middle", "color": "#404040"},
 "encoding": {"x": {"datum": 3344.8, "type": "quantitative", "scale": {"domain": [-1475.86, 18137.93], "nice": false, "zero": false}},
  "y": {"datum": 119309, "type": "quantitative", "scale": {"domain": [-313670, 217713], "nice": false, "zero": false}}, "text": {"value": "Difference"}}}
]
},
{
"layer": [
{"mark": {"type": "rect", "filled": false, "stroke": "#d4d4d4", "strokeWidth": 2.5},
 "encoding": {"x": {"datum": -866.3, "type": "quantitative", "scale": {"domain": [-6643.7, 12987.0], "nice": false, "zero": false}}, "x2": {"datum": 4269.2},
  "y": {"datum": 73768, "type": "quantitative", "scale": {"domain": [-130411, 96480], "nice": false, "zero": false}}, "y2": {"datum": -29571}}},
{"mark": {"type": "rule", "color": "#a6a6a6", "strokeWidth": 2.5},
 "encoding": {"x": {"datum": 0, "type": "quantitative", "scale": {"domain": [-6643.7, 12987.0], "nice": false, "zero": false}},
  "y": {"datum": -10000, "type": "quantitative", "scale": {"domain": [-130411, 96480], "nice": false, "zero": false}}, "y2": {"datum": 60000}}},
{"mark": {"type": "rule", "color": "#a6a6a6", "strokeWidth": 2.5},
 "encoding": {"x": {"datum": 0, "type": "quantitative", "scale": {"domain": [-6643.7, 12987.0], "nice": false, "zero": false}}, "x2": {"datum": 4000},
  "y": {"datum": 0, "type": "quantitative", "scale": {"domain": [-130411, 96480], "nice": false, "zero": false}}}},
{"data": {"name": "p2o"}, "mark": {"type": "line", "color": "#1c3e92", "strokeWidth": 2.5},
 "encoding": {"x": {"field": "t", "type": "quantitative", "scale": {"domain": [-6643.7, 12987.0], "nice": false, "zero": false},
   "axis": {"orient": "bottom", "offset": -574.2, "values": [0, 500, 1000, 1500, 2000, 2500, 3000, 3500, 4000], "domain": false, "ticks": false, "tickSize": 0, "labelPadding": 14, "labelFont": "Liberation Serif", "labelFontWeight": "bold", "labelFontSize": 20, "labelColor": "#222222", "labelFlush": false, "labelOverlap": false, "labelExpr": "'' + datum.value",
    "title": "2 theta (degree)", "titleFont": "Liberation Serif", "titleFontWeight": "bold", "titleFontSize": 22, "titleColor": "#1a1a1a", "titleX": 1257, "titleY": 63, "titleAlign": "center", "titleBaseline": "middle"}},
  "y": {"field": "v", "type": "quantitative", "scale": {"domain": [-130411, 96480], "nice": false, "zero": false},
   "axis": {"orient": "left", "offset": -962.5, "values": [-10000, 0, 10000, 20000, 30000, 40000, 50000, 60000], "domain": false, "ticks": false, "tickSize": 0, "labelPadding": 16, "labelFont": "Liberation Serif", "labelFontWeight": "bold", "labelFontSize": 20, "labelColor": "#222222", "labelFlush": false, "labelOverlap": false, "labelExpr": "'' + datum.value",
    "title": "Intensity", "titleFont": "Liberation Serif", "titleFontWeight": "bold", "titleFontSize": 21, "titleColor": "#1a1a1a", "titleAngle": 270, "titleX": -89.5, "titleY": 314, "titleAlign": "center", "titleBaseline": "middle"}}}},
{"data": {"name": "p2d"}, "mark": {"type": "line", "color": "#c8461c", "strokeWidth": 2.5},
 "encoding": {"x": {"field": "t", "type": "quantitative", "scale": {"domain": [-6643.7, 12987.0], "nice": false, "zero": false}},
  "y": {"field": "v", "type": "quantitative", "scale": {"domain": [-130411, 96480], "nice": false, "zero": false}}}},
{"mark": {"type": "text", "font": "Liberation Serif", "fontWeight": "bold", "fontSize": 23, "align": "left", "baseline": "middle", "color": "#1a1a1a"},
 "encoding": {"x": {"datum": -742.0, "type": "quantitative", "scale": {"domain": [-6643.7, 12987.0], "nice": false, "zero": false}},
  "y": {"datum": 67863, "type": "quantitative", "scale": {"domain": [-130411, 96480], "nice": false, "zero": false}}, "text": {"value": "NFM-TV 1%"}}},
{"mark": {"type": "rule", "color": "#1c3e92", "strokeWidth": 3},
 "encoding": {"x": {"datum": 2957.7, "type": "quantitative", "scale": {"domain": [-6643.7, 12987.0], "nice": false, "zero": false}}, "x2": {"datum": 3185.5},
  "y": {"datum": 57188, "type": "quantitative", "scale": {"domain": [-130411, 96480], "nice": false, "zero": false}}}},
{"mark": {"type": "rule", "color": "#c8461c", "strokeWidth": 3},
 "encoding": {"x": {"datum": 2957.7, "type": "quantitative", "scale": {"domain": [-6643.7, 12987.0], "nice": false, "zero": false}}, "x2": {"datum": 3185.5},
  "y": {"datum": 52191, "type": "quantitative", "scale": {"domain": [-130411, 96480], "nice": false, "zero": false}}}},
{"mark": {"type": "text", "font": "Liberation Serif", "fontSize": 17, "align": "left", "baseline": "middle", "color": "#222222"},
 "encoding": {"x": {"datum": 3206.2, "type": "quantitative", "scale": {"domain": [-6643.7, 12987.0], "nice": false, "zero": false}},
  "y": {"datum": 57188, "type": "quantitative", "scale": {"domain": [-130411, 96480], "nice": false, "zero": false}}, "text": {"value": "Observed Value"}}},
{"mark": {"type": "text", "font": "Liberation Serif", "fontSize": 17, "align": "left", "baseline": "middle", "color": "#222222"},
 "encoding": {"x": {"datum": 3206.2, "type": "quantitative", "scale": {"domain": [-6643.7, 12987.0], "nice": false, "zero": false}},
  "y": {"datum": 52191, "type": "quantitative", "scale": {"domain": [-130411, 96480], "nice": false, "zero": false}}, "text": {"value": "Difference"}}}
]
},
{
"layer": [
{"mark": {"type": "rect", "filled": false, "stroke": "#d4d4d4", "strokeWidth": 2.5},
 "encoding": {"x": {"datum": -958.6, "type": "quantitative", "scale": {"domain": [-1475.86, 18137.93], "nice": false, "zero": false}}, "x2": {"datum": 4296.6},
  "y": {"datum": 131507, "type": "quantitative", "scale": {"domain": [-73059, 383105], "nice": false, "zero": false}}, "y2": {"datum": -67580}}},
{"mark": {"type": "rule", "color": "#a6a6a6", "strokeWidth": 2.5},
 "encoding": {"x": {"datum": 0, "type": "quantitative", "scale": {"domain": [-1475.86, 18137.93], "nice": false, "zero": false}},
  "y": {"datum": -20000, "type": "quantitative", "scale": {"domain": [-73059, 383105], "nice": false, "zero": false}}, "y2": {"datum": 100000}}},
{"mark": {"type": "rule", "color": "#a6a6a6", "strokeWidth": 2.5},
 "encoding": {"x": {"datum": 0, "type": "quantitative", "scale": {"domain": [-1475.86, 18137.93], "nice": false, "zero": false}}, "x2": {"datum": 4000},
  "y": {"datum": 0, "type": "quantitative", "scale": {"domain": [-73059, 383105], "nice": false, "zero": false}}}},
{"data": {"name": "p3o"}, "mark": {"type": "line", "color": "#1c3e92", "strokeWidth": 2.5},
 "encoding": {"x": {"field": "t", "type": "quantitative", "scale": {"domain": [-1475.86, 18137.93], "nice": false, "zero": false},
   "axis": {"orient": "bottom", "offset": -160, "values": [0, 500, 1000, 1500, 2000, 2500, 3000, 3500, 4000], "domain": false, "ticks": false, "tickSize": 0, "labelPadding": 16, "labelFont": "Lato", "labelFontSize": 17, "labelColor": "#444444", "labelFlush": false, "labelOverlap": false, "labelExpr": "'' + datum.value",
    "title": "2 theta (degree)", "titleFont": "Liberation Serif", "titleFontWeight": "bold", "titleFontSize": 28, "titleColor": "#1a1a1a", "titleX": 504, "titleY": 64, "titleAlign": "center", "titleBaseline": "middle"}},
  "y": {"field": "v", "type": "quantitative", "scale": {"domain": [-73059, 383105], "nice": false, "zero": false},
   "axis": {"orient": "left", "offset": -213, "values": [-20000, 0, 20000, 40000, 60000, 80000, 100000], "domain": false, "ticks": false, "tickSize": 0, "labelPadding": 16, "labelFont": "Lato", "labelFontSize": 17, "labelColor": "#444444", "labelFlush": false, "labelOverlap": false, "labelExpr": "'' + datum.value",
    "title": "Intensity", "titleFont": "Liberation Serif", "titleFontWeight": "bold", "titleFontSize": 26, "titleColor": "#1a1a1a", "titleAngle": 270, "titleX": -96, "titleY": 749, "titleAlign": "center", "titleBaseline": "middle"}}}},
{"data": {"name": "p3d"}, "mark": {"type": "line", "color": "#c8461c", "strokeWidth": 2.5},
 "encoding": {"x": {"field": "t", "type": "quantitative", "scale": {"domain": [-1475.86, 18137.93], "nice": false, "zero": false}},
  "y": {"field": "v", "type": "quantitative", "scale": {"domain": [-73059, 383105], "nice": false, "zero": false}}}},
{"mark": {"type": "text", "font": "Liberation Serif", "fontWeight": "bold", "fontSize": 28, "align": "left", "baseline": "middle", "color": "#1a1a1a"},
 "encoding": {"x": {"datum": -806.9, "type": "quantitative", "scale": {"domain": [-1475.86, 18137.93], "nice": false, "zero": false}},
  "y": {"datum": 119635, "type": "quantitative", "scale": {"domain": [-73059, 383105], "nice": false, "zero": false}}, "text": {"value": "NFM-TV 2%"}}},
{"mark": {"type": "rule", "color": "#1c3e92", "strokeWidth": 3},
 "encoding": {"x": {"datum": 2813.8, "type": "quantitative", "scale": {"domain": [-1475.86, 18137.93], "nice": false, "zero": false}}, "x2": {"datum": 3096.6},
  "y": {"datum": 100457, "type": "quantitative", "scale": {"domain": [-73059, 383105], "nice": false, "zero": false}}}},
{"mark": {"type": "rule", "color": "#c8461c", "strokeWidth": 3},
 "encoding": {"x": {"datum": 2813.8, "type": "quantitative", "scale": {"domain": [-1475.86, 18137.93], "nice": false, "zero": false}}, "x2": {"datum": 3096.6},
  "y": {"datum": 83562, "type": "quantitative", "scale": {"domain": [-73059, 383105], "nice": false, "zero": false}}}},
{"mark": {"type": "text", "font": "Lato", "fontSize": 17, "align": "left", "baseline": "middle", "color": "#404040"},
 "encoding": {"x": {"datum": 3117.2, "type": "quantitative", "scale": {"domain": [-1475.86, 18137.93], "nice": false, "zero": false}},
  "y": {"datum": 100457, "type": "quantitative", "scale": {"domain": [-73059, 383105], "nice": false, "zero": false}}, "text": {"value": "Observed Value"}}},
{"mark": {"type": "text", "font": "Lato", "fontSize": 17, "align": "left", "baseline": "middle", "color": "#404040"},
 "encoding": {"x": {"datum": 3117.2, "type": "quantitative", "scale": {"domain": [-1475.86, 18137.93], "nice": false, "zero": false}},
  "y": {"datum": 83562, "type": "quantitative", "scale": {"domain": [-73059, 383105], "nice": false, "zero": false}}, "text": {"value": "Difference"}}}
]
},
{
"layer": [
{"mark": {"type": "rect", "filled": false, "stroke": "#d4d4d4", "strokeWidth": 2.5},
 "encoding": {"x": {"datum": -964.8, "type": "quantitative", "scale": {"domain": [-6859.2, 13169.0], "nice": false, "zero": false}}, "x2": {"datum": 4274.6},
  "y": {"datum": 134419, "type": "quantitative", "scale": {"domain": [-72093, 392558], "nice": false, "zero": false}}, "y2": {"datum": -66512}}},
{"mark": {"type": "rule", "color": "#a6a6a6", "strokeWidth": 2.5},
 "encoding": {"x": {"datum": 0, "type": "quantitative", "scale": {"domain": [-6859.2, 13169.0], "nice": false, "zero": false}},
  "y": {"datum": -20000, "type": "quantitative", "scale": {"domain": [-72093, 392558], "nice": false, "zero": false}}, "y2": {"datum": 100000}}},
{"mark": {"type": "rule", "color": "#a6a6a6", "strokeWidth": 2.5},
 "encoding": {"x": {"datum": 0, "type": "quantitative", "scale": {"domain": [-6859.2, 13169.0], "nice": false, "zero": false}}, "x2": {"datum": 4000},
  "y": {"datum": 0, "type": "quantitative", "scale": {"domain": [-72093, 392558], "nice": false, "zero": false}}}},
{"data": {"name": "p4o"}, "mark": {"type": "line", "color": "#1c3e92", "strokeWidth": 2.5},
 "encoding": {"x": {"field": "t", "type": "quantitative", "scale": {"domain": [-6859.2, 13169.0], "nice": false, "zero": false},
   "axis": {"orient": "bottom", "offset": -155, "values": [0, 500, 1000, 1500, 2000, 2500, 3000, 3500, 4000], "domain": false, "ticks": false, "tickSize": 0, "labelPadding": 14, "labelFont": "Lato", "labelFontSize": 17, "labelColor": "#444444", "labelFlush": false, "labelOverlap": false, "labelExpr": "'' + datum.value",
    "title": "2 theta (degree)", "titleFont": "Liberation Serif", "titleFontWeight": "bold", "titleFontSize": 27, "titleColor": "#1a1a1a", "titleX": 1258, "titleY": 60, "titleAlign": "center", "titleBaseline": "middle"}},
  "y": {"field": "v", "type": "quantitative", "scale": {"domain": [-72093, 392558], "nice": false, "zero": false},
   "axis": {"orient": "left", "offset": -973, "values": [-20000, 0, 20000, 40000, 60000, 80000, 100000], "domain": false, "ticks": false, "tickSize": 0, "labelPadding": 16, "labelFont": "Lato", "labelFontSize": 17, "labelColor": "#444444", "labelFlush": false, "labelOverlap": false, "labelExpr": "'' + datum.value",
    "title": "Intensity", "titleFont": "Liberation Serif", "titleFontWeight": "bold", "titleFontSize": 26, "titleColor": "#1a1a1a", "titleAngle": 270, "titleX": -93, "titleY": 756, "titleAlign": "center", "titleBaseline": "middle"}}}},
{"data": {"name": "p4d"}, "mark": {"type": "line", "color": "#c8461c", "strokeWidth": 2.5},
 "encoding": {"x": {"field": "t", "type": "quantitative", "scale": {"domain": [-6859.2, 13169.0], "nice": false, "zero": false}},
  "y": {"field": "v", "type": "quantitative", "scale": {"domain": [-72093, 392558], "nice": false, "zero": false}}}},
{"mark": {"type": "text", "font": "Liberation Serif", "fontWeight": "bold", "fontSize": 28, "align": "left", "baseline": "middle", "color": "#1a1a1a"},
 "encoding": {"x": {"datum": -852.1, "type": "quantitative", "scale": {"domain": [-6859.2, 13169.0], "nice": false, "zero": false}},
  "y": {"datum": 117674, "type": "quantitative", "scale": {"domain": [-72093, 392558], "nice": false, "zero": false}}, "text": {"value": "NFM-TV 3%"}}},
{"mark": {"type": "rule", "color": "#1c3e92", "strokeWidth": 3},
 "encoding": {"x": {"datum": 2929.6, "type": "quantitative", "scale": {"domain": [-6859.2, 13169.0], "nice": false, "zero": false}}, "x2": {"datum": 3218.3},
  "y": {"datum": 112558, "type": "quantitative", "scale": {"domain": [-72093, 392558], "nice": false, "zero": false}}}},
{"mark": {"type": "rule", "color": "#c8461c", "strokeWidth": 3},
 "encoding": {"x": {"datum": 2929.6, "type": "quantitative", "scale": {"domain": [-6859.2, 13169.0], "nice": false, "zero": false}}, "x2": {"datum": 3218.3},
  "y": {"datum": 100000, "type": "quantitative", "scale": {"domain": [-72093, 392558], "nice": false, "zero": false}}}},
{"mark": {"type": "text", "font": "Lato", "fontSize": 17, "align": "left", "baseline": "middle", "color": "#404040"},
 "encoding": {"x": {"datum": 3239.4, "type": "quantitative", "scale": {"domain": [-6859.2, 13169.0], "nice": false, "zero": false}},
  "y": {"datum": 112558, "type": "quantitative", "scale": {"domain": [-72093, 392558], "nice": false, "zero": false}}, "text": {"value": "Observed Value"}}},
{"mark": {"type": "text", "font": "Lato", "fontSize": 17, "align": "left", "baseline": "middle", "color": "#404040"},
 "encoding": {"x": {"datum": 3239.4, "type": "quantitative", "scale": {"domain": [-6859.2, 13169.0], "nice": false, "zero": false}},
  "y": {"datum": 100000, "type": "quantitative", "scale": {"domain": [-72093, 392558], "nice": false, "zero": false}}, "text": {"value": "Difference"}}}
]
},
{
"resolve": {"scale": {"color": "independent"}},
"layer": [
{"data": {"name": "xrd"}, "mark": {"type": "line", "strokeWidth": 2},
 "encoding": {"x": {"field": "t", "type": "quantitative", "scale": {"domain": [-107.61, 88.34], "nice": false, "zero": false},
   "axis": {"orient": "bottom", "offset": -101, "values": [10, 20, 30, 40, 50, 60, 70, 80], "tickSize": 14, "tickWidth": 3, "tickColor": "black", "domain": false, "labelPadding": 12, "labelFont": "Liberation Sans", "labelFontSize": 28, "labelColor": "black", "labelFlush": false, "labelOverlap": false,
    "title": "2-theta (degree)", "titleFont": "Liberation Serif", "titleFontWeight": "bold", "titleFontSize": 42, "titleColor": "#1515e6", "titleX": 2231, "titleY": 78, "titleAlign": "center", "titleBaseline": "middle"}},
  "y": {"field": "v", "type": "quantitative", "scale": {"domain": [-3.659, 32.537], "nice": false, "zero": false},
   "axis": {"orient": "left", "offset": -1697, "values": [1, 3, 5, 7, 9, 11, 13, 15, 17, 19, 21, 23, 25], "tickSize": 16, "tickWidth": 3, "tickColor": "black", "domain": false, "labels": false,
    "title": "Intensity", "titleFont": "Liberation Serif", "titleFontWeight": "bold", "titleFontSize": 40, "titleColor": "#1515e6", "titleAngle": 270, "titleX": -58, "titleY": 536, "titleAlign": "center", "titleBaseline": "middle"}},
  "color": {"field": "s", "type": "nominal", "scale": {"domain": ["NFM-TV 10%", "NFM-TV 5%", "NFM-TV 3%", "NFM-TV 2%", "NFM-TV 1%", "Pristine NFM"], "range": ["#d4a21a", "#b47fe0", "#2e9e60", "#2070dc", "#e8383d", "#3a3a3a"]}, "legend": null}}},
{"data": {"name": "xrdlab"}, "mark": {"type": "text", "font": "Liberation Serif", "fontWeight": "bold", "fontSize": 24, "align": "right", "baseline": "middle"},
 "encoding": {"x": {"field": "t", "type": "quantitative", "scale": {"domain": [-107.61, 88.34], "nice": false, "zero": false}},
  "y": {"field": "v", "type": "quantitative", "scale": {"domain": [-3.659, 32.537], "nice": false, "zero": false}},
  "text": {"field": "s", "type": "nominal"},
  "color": {"field": "s", "type": "nominal", "scale": {"domain": ["NFM-TV 10%", "NFM-TV 5%", "NFM-TV 3%", "NFM-TV 2%", "NFM-TV 1%", "Pristine NFM"], "range": ["#b8a22c", "#6a1d84", "#1e9a34", "#1a1a9a", "#ee2222", "#ef48a3"]}, "legend": null}}},
{"data": {"name": "hkl"}, "mark": {"type": "text", "font": "Liberation Sans", "fontWeight": "bold", "fontSize": 29, "align": "left", "baseline": "middle", "angle": 270, "color": "black"},
 "encoding": {"x": {"field": "t", "type": "quantitative", "scale": {"domain": [-107.61, 88.34], "nice": false, "zero": false}},
  "y": {"datum": 26.7, "type": "quantitative", "scale": {"domain": [-3.659, 32.537], "nice": false, "zero": false}},
  "text": {"field": "h", "type": "nominal"}}}
]
}
],
"resolve": {"scale": {"x": "independent", "y": "independent", "color": "independent"}, "axis": {"x": "independent", "y": "independent"}}
}
